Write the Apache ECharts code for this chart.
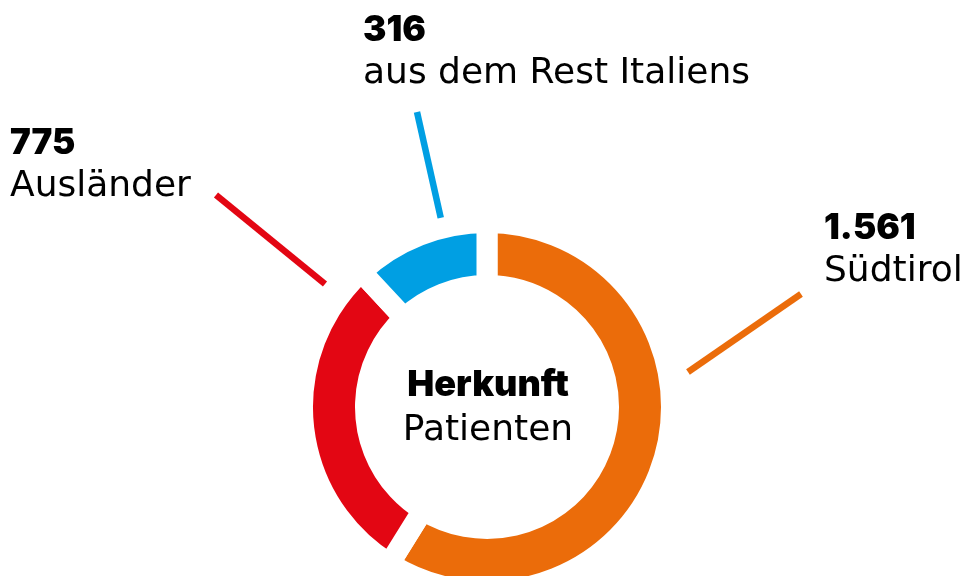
<!DOCTYPE html>
<html>
<head>
<meta charset="utf-8">
<script src="https://cdn.jsdelivr.net/npm/echarts@6/dist/echarts.min.js"></script>
<style>
  html, body { margin: 0; padding: 0; background: #fff; }
  #main { width: 967px; height: 576px; }
</style>
</head>
<body>
<div id="main"></div>
<script>
// Herkunft der Patienten
var categories = ['Südtirol', 'Ausländer', 'aus dem Rest Italiens'];
var patients = [1561, 775, 316];
var colors = ['#EB6C0A', '#E30613', '#009FE3'];

// where each label sits and where its pointer line runs (px)
var labelSpots = [
  { x: 824, y: 206, line: [[801, 294], [688, 372]] },
  { x: 10, y: 121, line: [[216, 195], [325, 284]] },
  { x: 363, y: 8, line: [[417, 112], [441, 219]] }
];

function fmt(v) {
  return String(v).replace(/\B(?=(\d{3})+(?!\d))/g, '.');
}

var myChart = echarts.init(document.getElementById('main'));

var pieData = [];
for (var i = 0; i < categories.length; i++) {
  pieData.push({ name: categories[i], value: patients[i], itemStyle: { color: colors[i] } });
}

var option = {
  animation: false,
  title: {
    text: '{b|Herkunft}\n{n|Patienten}',
    left: 488,
    top: 362,
    textAlign: 'center',
    padding: 0,
    textStyle: {
      rich: {
        b: { fontFamily: 'Inter', fontWeight: 900, fontSize: 36, color: '#000', lineHeight: 46, align: 'center' },
        n: { fontFamily: 'DejaVu Sans', fontWeight: 'normal', fontSize: 36, color: '#000', lineHeight: 46, align: 'center' }
      }
    }
  },
  series: [{
    type: 'pie',
    center: [487, 407],
    radius: [121.5, 184.5],
    startAngle: 90,
    clockwise: true,
    avoidLabelOverlap: false,
    itemStyle: { borderColor: '#fff', borderWidth: 21 },
    label: {
      show: true,
      formatter: function (p) { return '{b|' + fmt(p.value) + '}\n{n|' + p.name + '}'; },
      rich: {
        b: { fontFamily: 'Inter', fontWeight: 900, fontSize: 35, color: '#000', lineHeight: 44 },
        n: { fontFamily: 'DejaVu Sans', fontWeight: 'normal', fontSize: 36, color: '#000', lineHeight: 44 }
      }
    },
    labelLine: { show: true, lineStyle: { width: 6.5 } },
    labelLayout: function (params) {
      var s = labelSpots[params.dataIndex];
      return { x: s.x, y: s.y, align: 'left', verticalAlign: 'top', labelLinePoints: s.line };
    },
    emphasis: { disabled: true },
    data: pieData
  }]
};

myChart.setOption(option);
</script>
</body>
</html>
